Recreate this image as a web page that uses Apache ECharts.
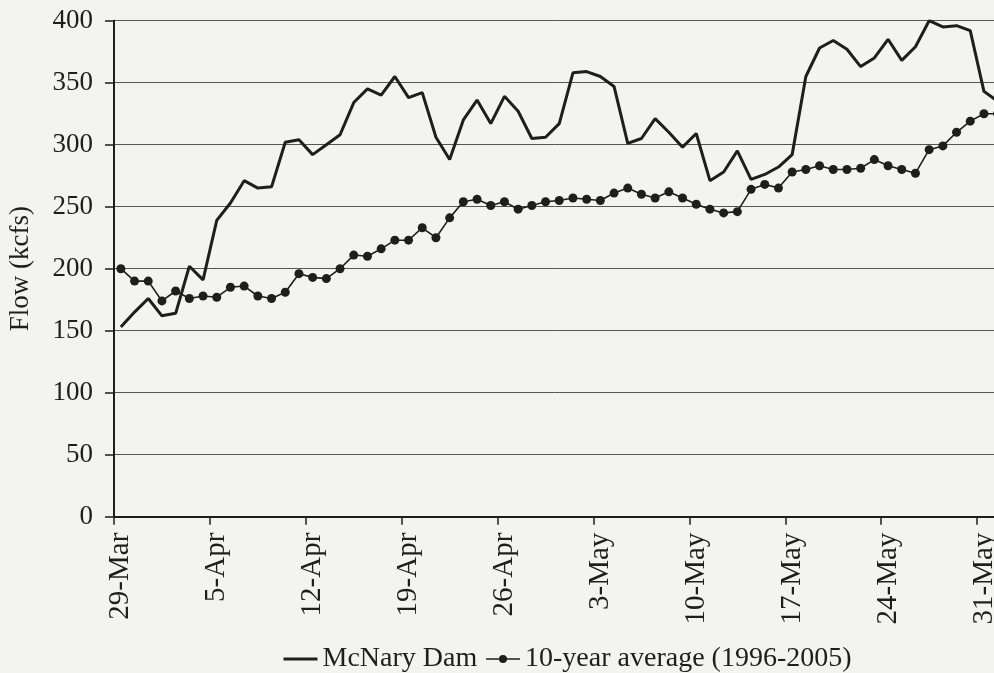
<!DOCTYPE html>
<html>
<head>
<meta charset="utf-8">
<script src="https://cdn.jsdelivr.net/npm/echarts@6/dist/echarts.min.js"></script>
<style>
html,body{margin:0;padding:0;background:#f3f3f1;overflow:hidden;}
#chart{width:994px;height:673px;}
</style>
</head>
<body>
<div id="chart"></div>
<script>
const categories = [
  '29-Mar','30-Mar','31-Mar',
  '1-Apr','2-Apr','3-Apr','4-Apr','5-Apr','6-Apr','7-Apr','8-Apr','9-Apr','10-Apr',
  '11-Apr','12-Apr','13-Apr','14-Apr','15-Apr','16-Apr','17-Apr','18-Apr','19-Apr','20-Apr',
  '21-Apr','22-Apr','23-Apr','24-Apr','25-Apr','26-Apr','27-Apr','28-Apr','29-Apr','30-Apr',
  '1-May','2-May','3-May','4-May','5-May','6-May','7-May','8-May','9-May','10-May',
  '11-May','12-May','13-May','14-May','15-May','16-May','17-May','18-May','19-May','20-May',
  '21-May','22-May','23-May','24-May','25-May','26-May','27-May','28-May','29-May','30-May',
  '31-May','1-Jun'
];
const mcnary = [
  153,165,176,162,164,202,191,239,253,271,265,266,302,304,292,300,308,334,345,340,
  355,338,342,306,288,320,336,317,339,327,305,306,317,358,359,355,347,301,305,321,
  310,298,309,271,278,295,272,276,282,292,355,378,384,377,363,370,385,368,379,400,
  395,396,392,343,335
];
const tenYearAvg = [
  200,190,190,174,182,176,178,177,185,186,178,176,181,196,193,192,200,211,210,216,
  223,223,233,225,241,254,256,251,254,248,251,254,255,257,256,255,261,265,260,257,
  262,257,252,248,245,246,264,268,265,278,280,283,280,280,281,288,283,280,277,296,
  299,310,319,325,325
];
const seriesNames = ['McNary Dam', '10-year average (1996-2005)'];
const yTitle = 'Flow (kcfs)';

const FONT = '"Liberation Serif", "Times New Roman", serif';
const INK = '#1e1e1e';
const chart = echarts.init(document.getElementById('chart'));
chart.setOption({
  backgroundColor: '#f3f3f1',
  animation: false,
  textStyle: { fontFamily: FONT, color: INK },
  grid: {
    left: 114, top: 20.7, width: categories.length * 13.7, height: 496,
    containLabel: false, outerBoundsMode: 'none'
  },
  legend: {
    left: 277, top: 640,
    itemWidth: 34, itemHeight: 10, itemGap: 8,
    textStyle: { fontFamily: FONT, fontSize: 28, color: INK },
    data: [
      {
        name: seriesNames[0],
        itemStyle: { color: 'rgba(0,0,0,0)', borderWidth: 0, borderColor: 'rgba(0,0,0,0)' },
        lineStyle: { color: INK, width: 3 }
      },
      { name: seriesNames[1], lineStyle: { color: INK, width: 1.6 } }
    ]
  },
  xAxis: {
    type: 'category',
    data: categories,
    boundaryGap: true,
    axisLine: { lineStyle: { color: INK, width: 2 } },
    axisTick: { show: true, interval: 6, length: 8, lineStyle: { color: INK, width: 1.5 } },
    axisLabel: { interval: 6, rotate: 90, margin: 16, fontFamily: FONT, fontSize: 29, color: INK },
    splitLine: { show: false }
  },
  yAxis: {
    type: 'value',
    min: 0, max: 400, interval: 50,
    name: yTitle,
    nameLocation: 'middle',
    nameGap: 80,
    nameRotate: 90,
    nameTextStyle: { fontFamily: FONT, fontSize: 27, color: INK },
    axisLine: { show: true, lineStyle: { color: INK, width: 2 } },
    axisTick: { show: true, length: 9, lineStyle: { color: INK, width: 1.5 } },
    axisLabel: { margin: 21, fontFamily: FONT, fontSize: 27, color: INK },
    splitLine: { show: true, lineStyle: { color: '#555', width: 1 } }
  },
  series: [
    {
      name: seriesNames[0],
      type: 'line',
      data: mcnary,
      symbol: 'none',
      lineStyle: { color: INK, width: 3 },
      itemStyle: { color: INK },
      z: 3
    },
    {
      name: seriesNames[1],
      type: 'line',
      data: tenYearAvg,
      symbol: 'circle',
      symbolSize: 9,
      showAllSymbol: true,
      lineStyle: { color: INK, width: 1.6 },
      itemStyle: { color: INK },
      z: 2
    }
  ]
});
</script>
</body>
</html>
